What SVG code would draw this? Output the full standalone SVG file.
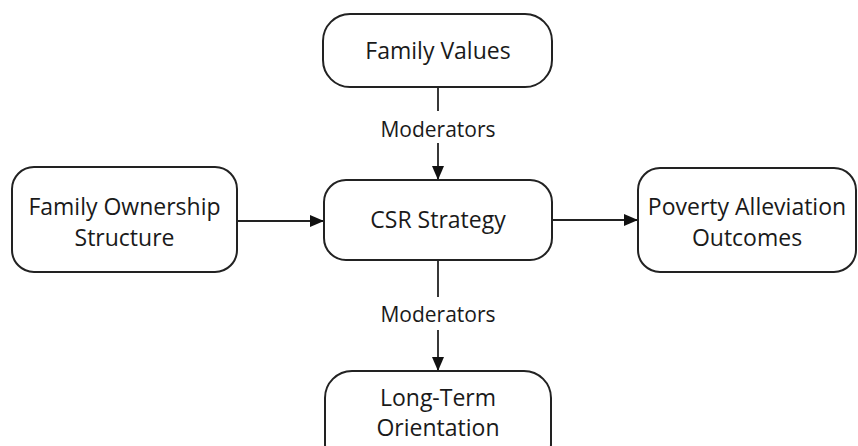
<svg xmlns="http://www.w3.org/2000/svg" width="858" height="446" viewBox="0 0 858 446">
<style>
.box{fill:#fff;stroke:#222;stroke-width:2}
.t{font-family:"Open Sans","Noto Sans",sans-serif;font-size:23px;fill:#1a1a1a;text-anchor:middle}
.lbl{font-family:"Open Sans","Noto Sans",sans-serif;font-size:21px;fill:#1a1a1a;text-anchor:middle}
.ln{stroke:#222;stroke-width:1.8;fill:none}
</style>
<defs>
<marker id="ah" markerWidth="14" markerHeight="12" refX="14" refY="6" orient="auto" markerUnits="userSpaceOnUse">
<path d="M0,0 L14,6 L0,12 Z" fill="#111"/>
</marker>
</defs>
<rect width="858" height="446" fill="#fff"/>
<g id="connectors">
<line class="ln" x1="438" y1="87" x2="438" y2="111"/>
<line class="ln" x1="438" y1="143" x2="438" y2="180" marker-end="url(#ah)"/>
<text class="lbl" x="438" y="137">Moderators</text>
<line class="ln" x1="438" y1="260" x2="438" y2="297"/>
<line class="ln" x1="438" y1="330" x2="438" y2="371" marker-end="url(#ah)"/>
<text class="lbl" x="438" y="322">Moderators</text>
<line class="ln" x1="237" y1="221" x2="324" y2="221" marker-end="url(#ah)"/>
<line class="ln" x1="552" y1="220" x2="638" y2="220" marker-end="url(#ah)"/>
</g>
<g id="family-values">
<rect class="box" x="323" y="14" width="229" height="73" rx="27"/>
<text class="t" x="438" y="59">Family Values</text>
</g>
<g id="csr-strategy">
<rect class="box" x="324" y="180" width="228" height="80" rx="22"/>
<text class="t" x="438" y="228">CSR Strategy</text>
</g>
<g id="family-ownership">
<rect class="box" x="12" y="167" width="225" height="105" rx="22"/>
<text class="t" x="124.5" y="215">Family Ownership</text>
<text class="t" x="124.5" y="246">Structure</text>
</g>
<g id="poverty-alleviation">
<rect class="box" x="638" y="168" width="218" height="104" rx="22"/>
<text class="t" x="747" y="215">Poverty Alleviation</text>
<text class="t" x="747" y="246">Outcomes</text>
</g>
<g id="long-term">
<rect class="box" x="325" y="371" width="226" height="100" rx="27"/>
<text class="t" x="438" y="406">Long-Term</text>
<text class="t" x="438" y="436">Orientation</text>
</g>
</svg>
